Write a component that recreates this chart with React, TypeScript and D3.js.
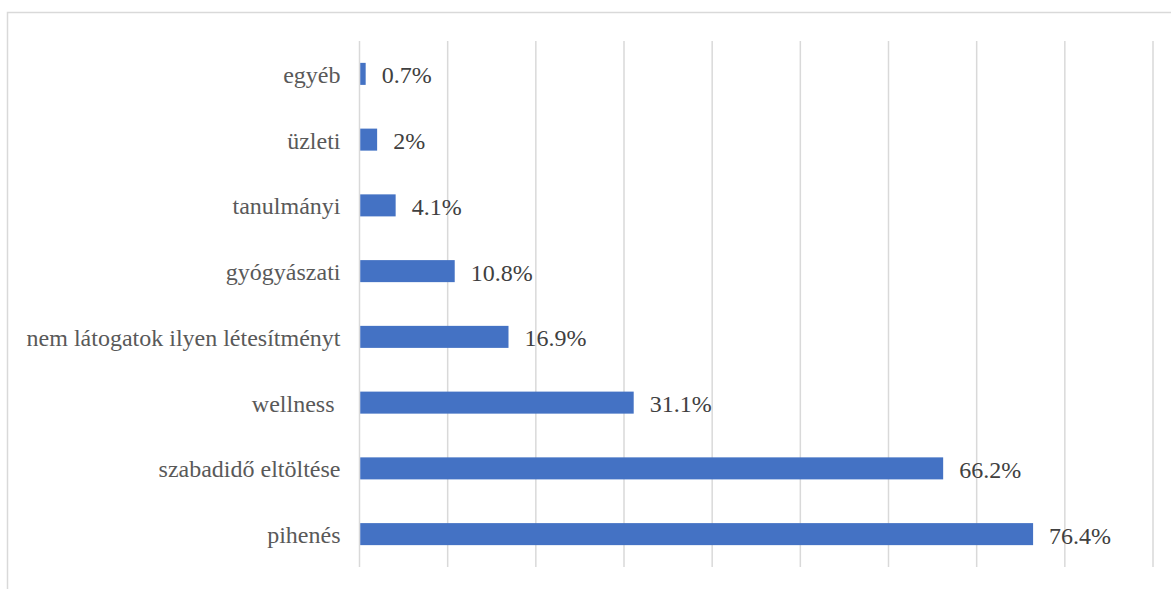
import React from "react";
import * as d3 from "d3";

const categories = [
  "egyéb",
  "üzleti",
  "tanulmányi",
  "gyógyászati",
  "nem látogatok ilyen létesítményt",
  "wellness\u00a0",
  "szabadidő eltöltése",
  "pihenés",
];
const values = [0.7, 2, 4.1, 10.8, 16.9, 31.1, 66.2, 76.4];
const valueLabels = ["0.7%", "2%", "4.1%", "10.8%", "16.9%", "31.1%", "66.2%", "76.4%"];
const gridTicks = [0, 10, 20, 30, 40, 50, 60, 70, 80, 90];

const W = 1171;
const H = 589;
const plotLeft = 359.5;
const plotRight = 1153;
const plotTop = 41;
const plotBottom = 567;
const FONT = "'Liberation Serif', 'Times New Roman', Tinos, serif";

export default function App() {
  const x = d3.scaleLinear().domain([0, 90]).range([plotLeft, plotRight]);
  const y = d3
    .scaleBand<string>()
    .domain(categories)
    .range([plotTop, plotBottom])
    .paddingInner(0.665)
    .paddingOuter(0.3325);
  return (
    <svg
      width={W}
      height={H}
      style={{ position: "absolute", left: 0, top: 0, display: "block", background: "#fff" }}
    >
      <rect x={7.5} y={12.5} width={W + 10} height={H + 10} fill="#fff" stroke="#d9d9d9" strokeWidth={1.5} />
      {gridTicks.map((t) => (
        <line key={t} x1={x(t)} x2={x(t)} y1={plotTop} y2={plotBottom} stroke="#d9d9d9" strokeWidth={1.5} />
      ))}
      {categories.map((c, i) => {
        const yy = y(c)!;
        const bw = y.bandwidth();
        const cy = yy + bw / 2;
        return (
          <g key={c}>
            <rect x={x(0) + 0.75} y={yy} width={x(values[i]) - x(0) - 0.75} height={bw} fill="#4472C4" />
            <text x={plotLeft - 19} y={cy + 9} textAnchor="end" style={{ fontFamily: FONT, fontSize: 24 }} fill="#595959">
              {c}
            </text>
            <text x={x(values[i]) + 16} y={cy + 9.5} textAnchor="start" style={{ fontFamily: FONT, fontSize: 24 }} fill="#404040">
              {valueLabels[i]}
            </text>
          </g>
        );
      })}
    </svg>
  );
}
